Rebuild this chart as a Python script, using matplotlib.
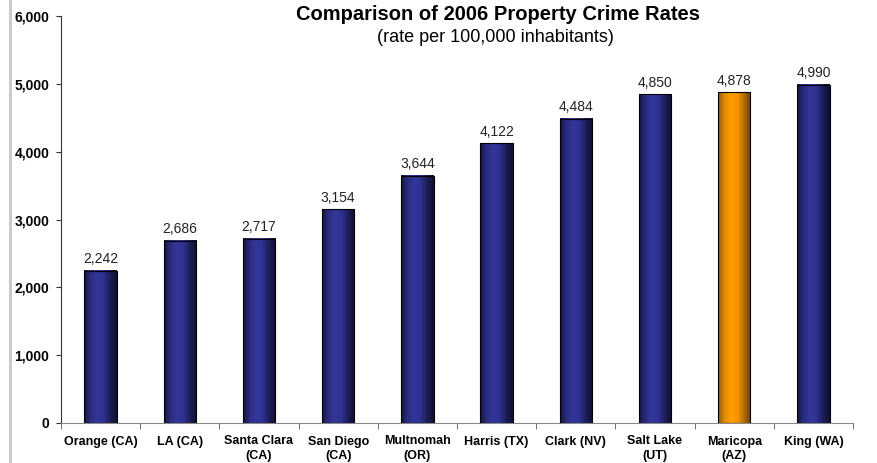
import numpy as np
import matplotlib.pyplot as plt
from matplotlib.colors import LinearSegmentedColormap
from matplotlib.lines import Line2D

plt.rcParams['font.family'] = ['Liberation Sans', 'DejaVu Sans']

counties = ['Orange (CA)', 'LA (CA)', 'Santa Clara\n(CA)', 'San Diego\n(CA)', 'Multnomah\n(OR)',
            'Harris (TX)', 'Clark (NV)', 'Salt Lake\n(UT)', 'Maricopa\n(AZ)', 'King (WA)']
rates = [2242, 2686, 2717, 3154, 3644, 4122, 4484, 4850, 4878, 4990]
highlight = 'Maricopa\n(AZ)'

blue_cmap = LinearSegmentedColormap.from_list(
    'blue', ['#15153f', '#2a2c80', '#34379a', '#2e3190', '#1c1d55', '#101030'])
orange_cmap = LinearSegmentedColormap.from_list(
    'orange', ['#8a5a10', '#e08c00', '#ff9d00', '#f59200', '#b06a00', '#6a4208'])

fig = plt.figure(figsize=(8.78, 4.63), dpi=100)
ax = fig.add_axes([61 / 878, 40 / 463, 792 / 878, 407 / 463])

x = np.arange(len(counties))
width = 0.41
grad = np.linspace(0, 1, 256).reshape(1, -1)
for xi, name, val in zip(x, counties, rates):
    cmap = orange_cmap if name == highlight else blue_cmap
    left = xi - width / 2
    ax.imshow(grad, cmap=cmap, aspect='auto', extent=(left, left + width, 0, val),
              zorder=2, interpolation='bicubic')
    ax.add_patch(plt.Rectangle((left, 0), width, val, fill=False, edgecolor='black',
                               linewidth=0.8, zorder=3))
    ax.text(xi, val + 110, f'{val:,}', ha='center', va='baseline', fontsize=10, color='#222222')

ax.set_xlim(-0.5, len(counties) - 0.5)
ax.set_ylim(0, 6000)
ax.set_yticks(range(0, 6001, 1000))
ax.set_yticklabels([f'{v:,}' for v in range(0, 6001, 1000)], fontsize=10, fontweight='bold')
ax.set_xticks(x)
ax.set_xticklabels(counties, fontsize=9, fontweight='bold', linespacing=1.25, va='top')
ax.set_xticks(np.arange(-0.5, len(counties)), minor=True)
ax.tick_params(axis='x', which='major', length=0, pad=9)
ax.tick_params(axis='x', which='minor', length=4, direction='out', color='#555555')
ax.tick_params(axis='y', length=3.5, color='#333333', pad=5)
for s in ['top', 'right']:
    ax.spines[s].set_visible(False)
ax.spines['left'].set_color('#333333')
ax.spines['bottom'].set_color('#888888')

fig.text(498 / 878, 1 - 15 / 463, 'Comparison of 2006 Property Crime Rates',
         ha='center', va='center', fontsize=14.5, fontweight='bold')
fig.text(495 / 878, 1 - 38 / 463, '(rate per 100,000 inhabitants)',
         ha='center', va='center', fontsize=13)

fig.add_artist(Line2D([10 / 878, 10 / 878], [0, 1], color='#c8c8c8', linewidth=2,
                      transform=fig.transFigure))

fig.savefig('out.png', dpi=100)
